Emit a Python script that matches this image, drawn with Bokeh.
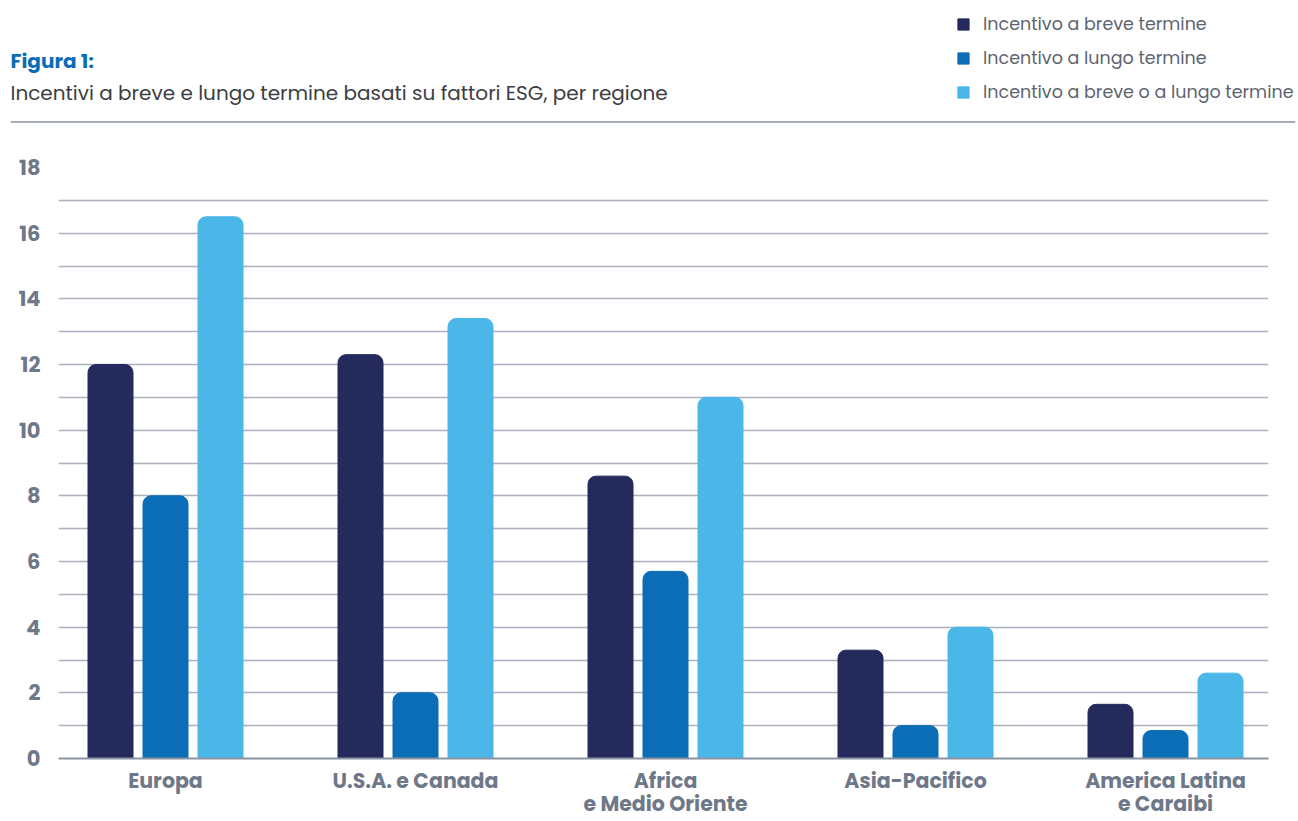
from bokeh.plotting import figure
from bokeh.layouts import column, row
from bokeh.models import (ColumnDataSource, Range1d, FixedTicker, Legend, LegendItem,
                          Label, Span)
from bokeh.transform import dodge
from bokeh.embed import file_html
from bokeh.resources import INLINE

# ---- data ----
regions = ["Europa", "U.S.A. e Canada", "Africa\ne Medio Oriente", "Asia-Pacifico",
           "America Latina\ne Caraibi"]
breve = [12.0, 12.3, 8.6, 3.3, 1.65]
lungo = [8.0, 2.0, 5.7, 1.0, 0.85]
breve_o_lungo = [16.5, 13.4, 11.0, 4.0, 2.6]
series_names = ["Incentivo a breve termine", "Incentivo a lungo termine",
                "Incentivo a breve o a lungo termine"]
y_tick_labels = [0, 2, 4, 6, 8, 10, 12, 14, 16, 18]
title_text = "Figura 1:"
subtitle_text = "Incentivi a breve e lungo termine basati su fattori ESG, per regione"

colors = ["#242a5b", "#0b6db5", "#4bb6e8"]
FONT = "Poppins, Inter, sans-serif"

src = ColumnDataSource(dict(x=list(range(len(regions))), breve=breve, lungo=lungo,
                            either=breve_o_lungo))

W = 1298
HEAD_H = 130
CH_H = 821 - HEAD_H

# ---------------- chart ----------------
p = figure(width=W, height=CH_H, output_backend="svg", toolbar_location=None,
           x_range=Range1d(-0.428, 4.412), y_range=Range1d(0, 18),
           min_border_left=58, min_border_right=30, min_border_top=167 - HEAD_H,
           min_border_bottom=61)
p.outline_line_color = None
p.xgrid.visible = False
p.ygrid.ticker = FixedTicker(ticks=list(range(0, 19)))
p.ygrid.grid_line_color = "#aab1bd"
p.ygrid.grid_line_width = 1.6

bw = 0.18
off = 0.22
r1 = p.vbar(x=dodge("x", -off), top="breve", width=bw, source=src, color=colors[0],
            border_radius=(8, 8, 0, 0))
r2 = p.vbar(x=dodge("x", 0), top="lungo", width=bw, source=src, color=colors[1],
            border_radius=(8, 8, 0, 0))
r3 = p.vbar(x=dodge("x", off), top="either", width=bw, source=src, color=colors[2],
            border_radius=(8, 8, 0, 0))

xa = p.xaxis[0]
xa.ticker = FixedTicker(ticks=list(range(len(regions))))
xa.major_label_overrides = {i: r for i, r in enumerate(regions)}
xa.major_tick_line_color = None
xa.minor_tick_line_color = None
xa.axis_line_color = "#8a93a3"
xa.axis_line_width = 1.8
xa.major_label_text_font = FONT
xa.major_label_text_font_style = "bold"
xa.major_label_text_font_size = "20.5px"
xa.major_label_text_color = "#6e7889"
xa.major_label_text_line_height = 0.82
xa.major_label_standoff = 1

ya = p.yaxis[0]
ya.ticker = FixedTicker(ticks=y_tick_labels)
ya.major_tick_line_color = None
ya.minor_tick_line_color = None
ya.axis_line_color = None
ya.major_label_text_font = FONT
ya.major_label_text_font_style = "bold"
ya.major_label_text_font_size = "21px"
ya.major_label_text_color = "#6e7889"
ya.major_label_standoff = 12

# ---------------- header ----------------
h = figure(width=W, height=HEAD_H, output_backend="svg", toolbar_location=None,
           x_range=Range1d(0, 1), y_range=Range1d(0, 1),
           min_border_left=10, min_border_right=3, min_border_top=0, min_border_bottom=0)
h.axis.visible = False
h.grid.visible = False
h.outline_line_color = None

def hy(cy):
    return HEAD_H - cy

h.add_layout(Label(x=0, y=hy(60), x_units="screen", y_units="screen", text=title_text,
                   text_font=FONT, text_font_style="bold", text_font_size="20px",
                   text_color="#0b6db5", text_baseline="middle", text_align="left"))
h.add_layout(Label(x=0, y=hy(92), x_units="screen", y_units="screen", text=subtitle_text,
                   text_font=FONT, text_font_size="20px", text_color="#3a3d42",
                   text_baseline="middle", text_align="left"))
h.add_layout(Span(location=hy(121.5) / HEAD_H, dimension="width", line_color="#8a93a3",
                  line_width=1.3))

# legend swatches: hidden copies of the bar renderers (outside the header's view)
g1 = h.vbar(x="x", top="breve", width=0.1, source=src, color=colors[0], visible=False)
g2 = h.vbar(x="x", top="lungo", width=0.1, source=src, color=colors[1], visible=False)
g3 = h.vbar(x="x", top="either", width=0.1, source=src, color=colors[2], visible=False)
legend = Legend(items=[LegendItem(label=series_names[0], renderers=[g1]),
                       LegendItem(label=series_names[1], renderers=[g2]),
                       LegendItem(label=series_names[2], renderers=[g3])],
                location=(956 - 10, hy(105)), padding=0, margin=0, spacing=8,
                glyph_width=14, glyph_height=14, label_standoff=13, label_height=20,
                label_text_font=FONT, label_text_font_size="17.5px",
                label_text_color="#5d6470", inactive_fill_alpha=0,
                border_line_color=None, background_fill_alpha=0)
h.add_layout(legend, "center")

layout = column(row(h), p, spacing=0)
open("out.html", "w").write(file_html(layout, INLINE))
